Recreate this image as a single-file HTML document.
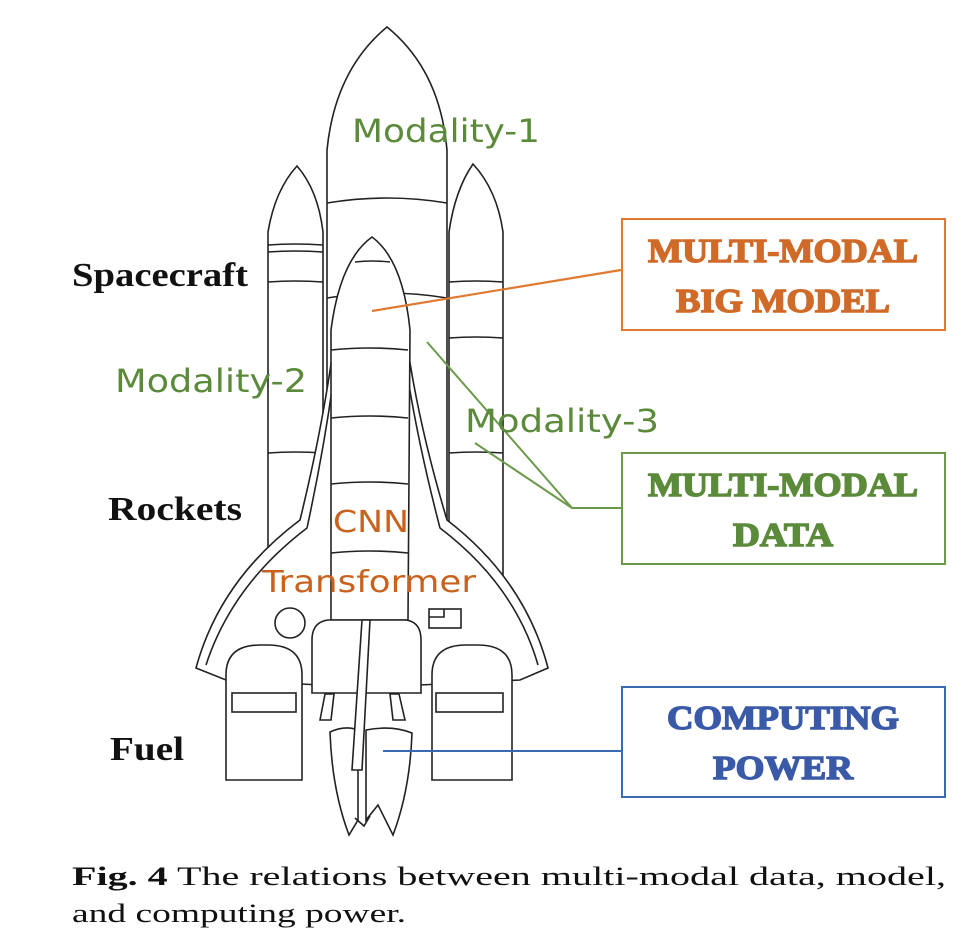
<!DOCTYPE html>
<html><head><meta charset="utf-8"><style>
html,body{margin:0;padding:0;background:#fff;}
svg{display:block}
.b{font-family:"Liberation Serif",serif;font-weight:bold;}
.m{font-family:"DejaVu Sans","Liberation Sans",sans-serif;}
</style></head><body>
<svg width="977" height="952" viewBox="0 0 977 952" xmlns="http://www.w3.org/2000/svg">
<g fill="#fff" stroke="#222" stroke-width="1.6">
<path d="M327,620 L327,150 Q335,70 387,27 Q440,70 447,150 L447,620 Z"/>
<path d="M327,203 Q387,193 447,203" fill="none"/>
<path d="M327,298 Q387,288 447,298" fill="none"/>
<path d="M268,660 L268,232 Q275,190 297,166 Q318,190 323,232 L323,660 Z"/>
<path d="M268,245 Q295,243 323,245 M268,252 Q295,250 323,252 M268,282 Q295,280 323,282 M268,453 Q295,451 323,453" fill="none"/>
<path d="M449,660 L449,232 Q455,190 473,164 Q497,190 503,232 L503,660 Z"/>
<path d="M449,282 Q476,280 503,282 M449,338 Q476,336 503,338 M449,453 Q476,451 503,453" fill="none"/>
<path d="M333,350 Q322,430 300,520 Q220,580 196,668 L226,680 L320,685 L420,685 L520,680 L548,668 Q525,580 447,520 Q420,430 408,350 Z"/>
<path d="M336,360 Q326,440 307,528 Q232,585 206,665 M405,360 Q417,440 440,528 Q515,585 538,665" fill="none"/>
<path d="M331,620 L331,330 Q340,260 372,237 Q403,260 410,330 L408,620 Z"/>
<path d="M355,262 Q372,260 390,262 M331,350 Q370,346 408,350 M331,418 Q370,414 408,418 M331,484 Q370,480 408,484 M331,553 Q370,549 408,553" fill="none"/>
<circle cx="290" cy="623" r="15"/>
<rect x="429" y="609" width="32" height="19"/><path d="M429,617 L444,617 L444,609" fill="none"/>
<path d="M312,693 L312,640 Q312,622 328,620 L406,620 Q421,622 421,640 L421,693 Z"/>
<path d="M226,780 L226,675 Q226,645 260,645 L268,645 Q302,645 302,675 L302,780 Z"/>
<rect x="232" y="693" width="64" height="19"/>
<path d="M432,780 L432,675 Q432,645 466,645 L478,645 Q512,645 512,675 L512,780 Z"/>
<rect x="436" y="693" width="67" height="19"/>
<path d="M320,720 L325,694 L334,694 L331,720 Z M393,720 L390,694 L399,694 L405,720 Z"/>
<path d="M330,732 Q345,725 358,730 L358,820 L349,835 Q332,790 330,732 Z"/>
<path d="M366,730 Q392,725 412,733 Q410,790 393,835 L378,805 L366,820 Z"/>
<path d="M355,818 L364,826 L370,816" fill="none"/>
<path d="M352,770 L362,620 L370,620 L362,770 Z"/>
</g>
<line x1="372" y1="311" x2="621" y2="270" stroke="#e07a30" stroke-width="2.2"/>
<polyline points="427,342 572,508 621,508" fill="none" stroke="#6a9a4a" stroke-width="2"/>
<line x1="475" y1="443" x2="572" y2="508" stroke="#6a9a4a" stroke-width="2"/>
<line x1="383" y1="751" x2="621" y2="751" stroke="#3a6ab0" stroke-width="2"/>
<rect x="622" y="219" width="323" height="111" fill="#fff" stroke="#e07a30" stroke-width="2"/>
<rect x="622" y="453" width="323" height="111" fill="#fff" stroke="#6a9a4a" stroke-width="2"/>
<rect x="622" y="687" width="323" height="110" fill="#fff" stroke="#3a6ab0" stroke-width="2"/>
<g class="b" font-size="34" text-anchor="middle" stroke-width="1.5">
<text x="783" y="262" fill="#d06a28" stroke="#d06a28" textLength="270" lengthAdjust="spacingAndGlyphs">MULTI-MODAL</text>
<text x="783" y="312" fill="#d06a28" stroke="#d06a28" textLength="214" lengthAdjust="spacingAndGlyphs">BIG MODEL</text>
<text x="783" y="496" fill="#5a8a3a" stroke="#5a8a3a" textLength="270" lengthAdjust="spacingAndGlyphs">MULTI-MODAL</text>
<text x="783" y="546" fill="#5a8a3a" stroke="#5a8a3a" textLength="100" lengthAdjust="spacingAndGlyphs">DATA</text>
<text x="783" y="729" fill="#3a5aa8" stroke="#3a5aa8" textLength="232" lengthAdjust="spacingAndGlyphs">COMPUTING</text>
<text x="783" y="779" fill="#3a5aa8" stroke="#3a5aa8" textLength="140" lengthAdjust="spacingAndGlyphs">POWER</text>
</g>
<g class="b" font-size="34" fill="#111">
<text x="72" y="286" textLength="176" lengthAdjust="spacingAndGlyphs">Spacecraft</text>
<text x="108" y="520" textLength="134" lengthAdjust="spacingAndGlyphs">Rockets</text>
<text x="110" y="760" textLength="74" lengthAdjust="spacingAndGlyphs">Fuel</text>
</g>
<g class="m" font-size="32" fill="#5a8a3a">
<text x="352" y="142" textLength="188" lengthAdjust="spacingAndGlyphs">Modality-1</text>
<text x="115" y="392" textLength="192" lengthAdjust="spacingAndGlyphs">Modality-2</text>
<text x="465" y="432" textLength="194" lengthAdjust="spacingAndGlyphs">Modality-3</text>
</g>
<g class="m" font-size="30" fill="#c8621e">
<text x="333" y="532" textLength="76" lengthAdjust="spacingAndGlyphs">CNN</text>
<text x="262" y="592" textLength="214" lengthAdjust="spacingAndGlyphs">Transformer</text>
</g>
<g font-family="Liberation Serif,serif" font-size="26" fill="#111">
<text x="72" y="885" textLength="874" lengthAdjust="spacingAndGlyphs"><tspan font-weight="bold">Fig. 4</tspan>  The relations between multi-modal data, model,</text>
<text x="72" y="922" textLength="334" lengthAdjust="spacingAndGlyphs">and computing power.</text>
</g>
</svg>
</body></html>
